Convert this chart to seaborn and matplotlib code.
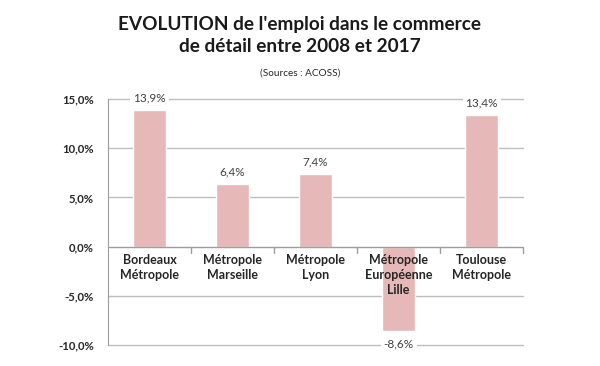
import matplotlib
matplotlib.use("Agg")
import matplotlib.pyplot as plt
import seaborn as sns
import pandas as pd

categories = ["Bordeaux\nMétropole", "Métropole\nMarseille", "Métropole\nLyon",
              "Métropole\nEuropéenne\nLille", "Toulouse\nMétropole"]
values = [13.9, 6.4, 7.4, -8.6, 13.4]
labels = ["13,9%", "6,4%", "7,4%", "-8,6%", "13,4%"]
yticks = [-10, -5, 0, 5, 10, 15]
ytick_labels = ["-10,0%", "-5,0%", "0,0%", "5,0%", "10,0%", "15,0%"]

df = pd.DataFrame({"ville": categories, "evol": values})

sns.set_style("white")
plt.rcParams["font.family"] = ["Lato", "DejaVu Sans"]

fig = plt.figure(figsize=(6.0, 3.66), dpi=100)
ax = fig.add_axes([0.18, 0.057, 0.692, 0.673])

sns.barplot(data=df, x="ville", y="evol", color="#e6b9b8", saturation=1,
            width=0.4, ax=ax, zorder=2)

ax.set_ylim(-10, 15)
ax.set_xlim(-0.5, 4.5)
ax.set_yticks(yticks)
ax.set_yticklabels(ytick_labels, fontsize=8.2, fontweight="bold", color="#262626")
for y in yticks:
    if y != 0:
        ax.axhline(y, color="#bdbdbd", lw=1, zorder=1, clip_on=False)
ax.axhline(0, color="#9e9e9e", lw=1, zorder=3)
ax.tick_params(axis="y", length=4, color="#9e9e9e", pad=6)

# boundary ticks on the zero line
for b in [0.5, 1.5, 2.5, 3.5, 4.5]:
    ax.plot([b, b], [0, -0.6], color="#9e9e9e", lw=1, zorder=3, clip_on=False)

ax.set_xticks([])
ax.set_xlabel("")
ax.set_ylabel("")
for s in ["top", "right", "bottom"]:
    ax.spines[s].set_visible(False)
ax.spines["left"].set_color("#9e9e9e")

for i, cat in enumerate(categories):
    ax.text(i, -0.75, cat, ha="center", va="top", fontsize=9, fontweight="bold",
            color="#262626", linespacing=1.3, zorder=4)

for i, (v, lab) in enumerate(zip(values, labels)):
    if v >= 0:
        ax.text(i, v + 1.2, lab, ha="center", va="center", fontsize=8.5,
                color="#404040", zorder=4,
                bbox=dict(facecolor="white", edgecolor="none", pad=2))
    else:
        ax.text(i, v - 1.3, lab, ha="center", va="center", fontsize=8.5,
                color="#404040", zorder=4,
                bbox=dict(facecolor="white", edgecolor="none", pad=2))

fig.text(0.5, 0.903, "EVOLUTION de l'emploi dans le commerce\nde détail entre 2008 et 2017",
         ha="center", va="center", fontsize=13.7, fontweight="bold",
         color="#1a1a1a", linespacing=1.3)
fig.text(0.5, 0.80, "(Sources : ACOSS)", ha="center", va="center", fontsize=7.2,
         color="#262626")

fig.savefig("out.png", dpi=100)
